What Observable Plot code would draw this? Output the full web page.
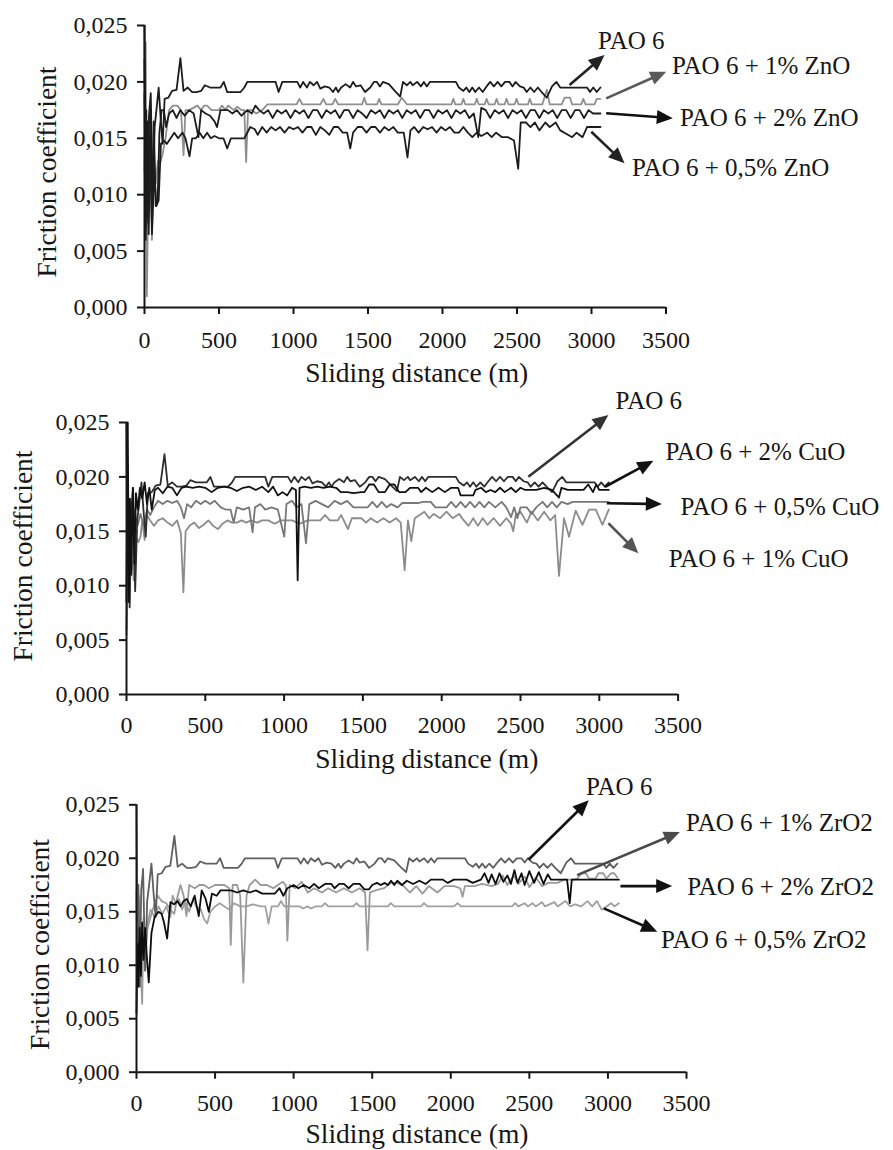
<!DOCTYPE html>
<html><head><meta charset="utf-8">
<script src="https://cdn.jsdelivr.net/npm/d3@7"></script>
<script src="https://cdn.jsdelivr.net/npm/@observablehq/plot@0.6"></script>
<style>
html,body{margin:0;padding:0;background:#fff;}
#chart{position:relative;width:893px;height:1150px;overflow:hidden;background:#fff;}
#chart svg{position:absolute;left:0;background:transparent !important;overflow:visible;}
</style></head><body><div id="chart"></div>
<script>
// ---------- DATA ----------
const distanceTicks = [0, 500, 1000, 1500, 2000, 2500, 3000, 3500];
const frictionTicks = [0, 0.005, 0.010, 0.015, 0.020, 0.025];
const xTitle = "Sliding distance (m)";
const yTitle = "Friction coefficient";

// [sliding distance (m), friction coefficient]
const pao6 = [[0,0.025],[6,0.012],[12,0.0175],[20,0.008],[30,0.017],[42,0.019],[55,0.0095],[68,0.016],[80,0.0175],[95,0.0195],[110,0.0165],[122,0.0145],[135,0.0185],[160,0.0186],[185,0.0192],[215,0.0193],[241,0.0221],[262,0.0192],[290,0.0195],[320,0.0191],[350,0.0191],[380,0.0192],[405,0.0197],[440,0.0195],[480,0.0195],[510,0.0195],[532,0.0200],[555,0.0191],[600,0.0191],[645,0.0191],[670,0.0195],[690,0.0200],[880,0.0200],[900,0.0191],[925,0.0200],[1025,0.0200],[1045,0.0195],[1065,0.0200],[1090,0.0195],[1110,0.0200],[1135,0.0197],[1158,0.0200],[1180,0.0194],[1210,0.0196],[1240,0.0195],[1265,0.0191],[1285,0.0195],[1300,0.0191],[1320,0.0195],[1350,0.0198],[1380,0.0195],[1400,0.0200],[1420,0.0196],[1450,0.0197],[1480,0.0191],[1515,0.0195],[1540,0.0200],[1560,0.0200],[1580,0.0196],[1600,0.0200],[1640,0.0198],[1680,0.0192],[1716,0.0187],[1735,0.0200],[1760,0.0197],[1785,0.0200],[1800,0.0197],[1830,0.0200],[1855,0.0196],[1875,0.0200],[1895,0.0196],[1915,0.0200],[2090,0.0200],[2110,0.0195],[2140,0.0192],[2160,0.0195],[2180,0.0191],[2200,0.0195],[2220,0.0191],[2245,0.0195],[2270,0.0191],[2296,0.0196],[2320,0.0200],[2345,0.0196],[2370,0.0200],[2395,0.0196],[2420,0.0200],[2450,0.0200],[2470,0.0196],[2490,0.0200],[2520,0.0196],[2545,0.0195],[2565,0.0191],[2590,0.0195],[2615,0.0191],[2640,0.0195],[2665,0.0191],[2700,0.0186],[2735,0.0196],[2765,0.0200],[2790,0.0195],[2970,0.0195],[2990,0.0191],[3012,0.0195],[3035,0.0191],[3060,0.0195]];

// ZnO panel
const zno1 = [[0,0.012],[8,0.0235],[16,0.001],[26,0.012],[38,0.018],[50,0.006],[62,0.014],[75,0.011],[90,0.013],[105,0.0128],[120,0.0135],[141,0.015],[165,0.0175],[190,0.0179],[220,0.0179],[245,0.0175],[262,0.0135],[275,0.0175],[300,0.0175],[355,0.0179],[380,0.0175],[400,0.0179],[420,0.0179],[450,0.0175],[500,0.0175],[520,0.0179],[545,0.0175],[560,0.0179],[600,0.0175],[623,0.0178],[650,0.0175],[670,0.0175],[682,0.0129],[695,0.0175],[720,0.0175],[750,0.0172],[790,0.0175],[825,0.018],[1020,0.018],[1040,0.0185],[1060,0.018],[1180,0.018],[1200,0.0185],[1220,0.018],[1260,0.018],[1280,0.0185],[1300,0.018],[1460,0.018],[1475,0.0186],[1490,0.018],[1560,0.018],[1575,0.0185],[1590,0.018],[1700,0.018],[1727,0.0186],[1761,0.018],[2060,0.018],[2073,0.0185],[2086,0.018],[2127,0.018],[2140,0.0185],[2153,0.018],[2217,0.018],[2230,0.0185],[2243,0.018],[2283,0.018],[2296,0.0185],[2310,0.018],[2350,0.018],[2363,0.0185],[2376,0.018],[2417,0.018],[2430,0.0185],[2443,0.018],[2484,0.018],[2497,0.0185],[2510,0.018],[2573,0.018],[2586,0.0185],[2600,0.018],[2670,0.018],[2700,0.0193],[2720,0.018],[2800,0.018],[2820,0.0186],[2856,0.0186],[2870,0.018],[2930,0.018],[2945,0.0185],[2960,0.018],[3020,0.018],[3035,0.0185],[3060,0.0185]];
const zno2 = [[0,0.022],[8,0.007],[18,0.0165],[28,0.0065],[40,0.0175],[50,0.007],[62,0.0165],[75,0.009],[88,0.0095],[100,0.0155],[115,0.0175],[130,0.0175],[145,0.016],[165,0.0172],[190,0.0175],[215,0.0168],[240,0.0175],[270,0.017],[300,0.0175],[330,0.0172],[362,0.0151],[380,0.0175],[410,0.0172],[440,0.017],[470,0.0165],[487,0.016],[510,0.0175],[560,0.0175],[590,0.0172],[620,0.0175],[650,0.017],[690,0.0175],[720,0.0172],[744,0.0179],[770,0.0175],[800,0.0172],[830,0.0175],[860,0.0168],[890,0.0175],[920,0.0172],[950,0.0175],[980,0.0168],[1010,0.0175],[1040,0.0172],[1070,0.0175],[1100,0.0168],[1130,0.0175],[1160,0.0175],[1190,0.0168],[1220,0.0175],[1250,0.0172],[1280,0.0175],[1310,0.0168],[1340,0.0175],[1370,0.0175],[1400,0.0168],[1430,0.0175],[1460,0.0172],[1490,0.0168],[1520,0.0175],[1550,0.0172],[1580,0.0175],[1610,0.0168],[1640,0.0175],[1670,0.0172],[1700,0.0175],[1730,0.0168],[1760,0.0175],[1790,0.0172],[1820,0.0175],[1850,0.0168],[1880,0.0175],[1910,0.0175],[1940,0.0168],[1970,0.0175],[2000,0.0172],[2030,0.0175],[2060,0.0168],[2090,0.0175],[2120,0.0172],[2150,0.0175],[2180,0.0168],[2210,0.0172],[2240,0.0151],[2260,0.0177],[2290,0.0175],[2320,0.0168],[2350,0.0175],[2380,0.0172],[2410,0.0175],[2440,0.0168],[2470,0.0175],[2500,0.0172],[2530,0.0175],[2560,0.0168],[2590,0.0175],[2620,0.0175],[2650,0.0168],[2680,0.0175],[2710,0.0172],[2740,0.0175],[2770,0.0168],[2800,0.0175],[2830,0.0175],[2860,0.0168],[2890,0.0175],[2920,0.0175],[2950,0.0168],[2980,0.0175],[3010,0.0172],[3060,0.0172]];
const zno05 = [[0,0.019],[8,0.006],[15,0.014],[25,0.0075],[38,0.015],[50,0.0065],[65,0.012],[80,0.009],[95,0.0095],[110,0.0145],[130,0.0148],[150,0.0145],[175,0.015],[200,0.0155],[225,0.015],[255,0.0155],[275,0.015],[302,0.0134],[320,0.015],[345,0.015],[370,0.0155],[395,0.015],[420,0.0155],[445,0.015],[470,0.0152],[500,0.015],[530,0.015],[555,0.0141],[580,0.015],[640,0.015],[670,0.015],[710,0.016],[740,0.0158],[760,0.0153],[790,0.016],[820,0.0155],[850,0.016],[880,0.0157],[910,0.016],[940,0.0155],[970,0.016],[1000,0.0158],[1030,0.016],[1060,0.0155],[1090,0.016],[1120,0.016],[1150,0.0153],[1180,0.016],[1210,0.0157],[1240,0.0153],[1270,0.016],[1300,0.016],[1330,0.0155],[1360,0.0155],[1381,0.0141],[1400,0.0155],[1430,0.016],[1460,0.016],[1490,0.0155],[1520,0.016],[1550,0.016],[1580,0.0155],[1610,0.016],[1640,0.0157],[1670,0.016],[1700,0.0155],[1740,0.0155],[1765,0.0133],[1785,0.0157],[1810,0.016],[1840,0.0155],[1870,0.016],[1900,0.0158],[1930,0.016],[1960,0.0155],[1990,0.016],[2020,0.0157],[2050,0.016],[2080,0.0155],[2110,0.0155],[2140,0.016],[2170,0.0155],[2200,0.0151],[2230,0.0155],[2260,0.0152],[2300,0.0155],[2330,0.0151],[2360,0.0155],[2400,0.0151],[2440,0.0151],[2480,0.0148],[2508,0.0123],[2525,0.0164],[2560,0.0164],[2590,0.016],[2620,0.0164],[2650,0.0157],[2690,0.0164],[2720,0.016],[2760,0.0164],[2790,0.0157],[2830,0.0154],[2870,0.0151],[2900,0.0155],[2940,0.0151],[2970,0.016],[3060,0.016]];

// CuO panel
const cuo2 = [[0,0.0085],[8,0.025],[15,0.0085],[22,0.018],[30,0.011],[40,0.019],[50,0.012],[60,0.0185],[72,0.017],[85,0.019],[100,0.018],[115,0.0195],[130,0.0175],[145,0.019],[160,0.017],[180,0.0188],[200,0.019],[230,0.0185],[260,0.0191],[290,0.019],[320,0.0183],[350,0.019],[380,0.0191],[420,0.019],[460,0.0191],[500,0.019],[540,0.0186],[580,0.019],[620,0.0191],[660,0.019],[700,0.0187],[740,0.019],[780,0.0191],[820,0.0188],[860,0.0191],[900,0.0186],[930,0.0191],[960,0.0183],[990,0.0186],[1020,0.0183],[1050,0.019],[1075,0.0188],[1086,0.0105],[1098,0.019],[1130,0.0191],[1170,0.019],[1210,0.0191],[1250,0.019],[1290,0.0191],[1330,0.019],[1360,0.0186],[1400,0.0186],[1440,0.0185],[1490,0.0186],[1510,0.0186],[1540,0.0193],[1570,0.0193],[1600,0.0186],[1640,0.0186],[1670,0.0193],[1700,0.0193],[1730,0.0186],[1770,0.0186],[1800,0.019],[1850,0.019],[1870,0.0186],[1900,0.019],[1940,0.0186],[1980,0.019],[2020,0.0186],[2060,0.019],[2104,0.019],[2120,0.0183],[2200,0.0183],[2215,0.0188],[2250,0.019],[2280,0.0186],[2310,0.0188],[2340,0.0186],[2370,0.019],[2400,0.0186],[2440,0.019],[2470,0.0186],[2500,0.019],[2530,0.0188],[2600,0.0188],[2650,0.019],[2700,0.0188],[2744,0.0181],[2760,0.019],[2800,0.0188],[2900,0.0188],[2930,0.0193],[2960,0.0186],[2980,0.0193],[3000,0.0188],[3060,0.0188]];
const cuo05 = [[0,0.0055],[8,0.014],[15,0.009],[25,0.016],[35,0.0115],[50,0.017],[70,0.0155],[89,0.0166],[110,0.0155],[130,0.017],[150,0.0165],[174,0.0172],[200,0.0178],[230,0.0175],[260,0.0178],[290,0.0176],[322,0.0178],[345,0.0172],[365,0.0162],[385,0.0175],[410,0.0172],[440,0.0178],[471,0.0175],[500,0.0178],[530,0.0175],[560,0.0178],[598,0.0172],[630,0.017],[660,0.017],[680,0.0158],[700,0.0172],[740,0.017],[778,0.0172],[800,0.0149],[815,0.0172],[850,0.0175],[880,0.017],[920,0.0172],[960,0.017],[1001,0.0145],[1015,0.0175],[1050,0.0178],[1080,0.0172],[1110,0.0175],[1139,0.0139],[1160,0.0175],[1200,0.0178],[1240,0.0175],[1280,0.0172],[1320,0.0178],[1360,0.0175],[1400,0.0178],[1440,0.0172],[1490,0.0172],[1530,0.0172],[1560,0.0177],[1590,0.0172],[1620,0.0177],[1650,0.0172],[1680,0.0175],[1720,0.0172],[1750,0.0176],[1800,0.0176],[1850,0.0176],[1880,0.0177],[1930,0.0177],[1960,0.0172],[2030,0.0172],[2060,0.0177],[2090,0.0172],[2120,0.0177],[2150,0.0172],[2180,0.0177],[2210,0.0172],[2240,0.0177],[2270,0.0172],[2300,0.0177],[2340,0.0172],[2380,0.0177],[2410,0.0172],[2440,0.0163],[2460,0.0172],[2480,0.0162],[2500,0.0172],[2540,0.0172],[2570,0.0166],[2600,0.0172],[2640,0.0177],[2670,0.0172],[2700,0.0177],[2730,0.0172],[2760,0.0177],[2800,0.0175],[2830,0.0177],[3060,0.0177]];
const cuo1 = [[0,0.006],[10,0.012],[20,0.0085],[30,0.015],[45,0.0105],[60,0.0145],[75,0.014],[89,0.0145],[100,0.016],[115,0.0142],[130,0.0165],[150,0.016],[174,0.0155],[200,0.016],[230,0.0162],[260,0.0158],[290,0.0155],[322,0.016],[345,0.0148],[361,0.0094],[375,0.015],[400,0.0155],[430,0.0158],[460,0.0153],[490,0.0156],[520,0.016],[550,0.0155],[580,0.0152],[610,0.0157],[640,0.016],[670,0.0158],[700,0.0158],[730,0.016],[760,0.0158],[790,0.016],[830,0.0158],[860,0.016],[900,0.016],[940,0.0157],[980,0.016],[1020,0.016],[1050,0.016],[1100,0.0157],[1150,0.016],[1200,0.016],[1230,0.016],[1260,0.0165],[1290,0.016],[1340,0.016],[1362,0.0165],[1405,0.0152],[1430,0.0162],[1460,0.0162],[1490,0.0162],[1520,0.0158],[1550,0.0162],[1590,0.0158],[1630,0.0162],[1670,0.0158],[1710,0.0162],[1740,0.0158],[1765,0.0114],[1786,0.016],[1807,0.0141],[1829,0.0162],[1860,0.0165],[1890,0.0168],[1920,0.0162],[1950,0.0166],[1990,0.0162],[2030,0.0168],[2070,0.0162],[2110,0.0166],[2140,0.016],[2170,0.0155],[2200,0.0162],[2230,0.0155],[2260,0.0162],[2290,0.0156],[2330,0.0162],[2370,0.0155],[2410,0.0162],[2440,0.0157],[2454,0.015],[2470,0.0165],[2500,0.0168],[2540,0.0158],[2570,0.0168],[2610,0.016],[2650,0.0168],[2690,0.016],[2720,0.0165],[2744,0.0109],[2776,0.0162],[2808,0.0145],[2850,0.0169],[2893,0.0156],[2935,0.017],[2978,0.017],[3020,0.0156],[3060,0.017]];

// ZrO2 panel
const zro1 = [[0,0.017],[8,0.0095],[15,0.0165],[25,0.011],[36,0.0064],[45,0.0145],[55,0.011],[70,0.0135],[90,0.0145],[110,0.0155],[135,0.0165],[160,0.016],[190,0.0158],[215,0.0152],[240,0.0148],[262,0.0165],[280,0.0175],[300,0.0165],[318,0.0146],[335,0.0175],[370,0.0172],[400,0.0175],[430,0.0175],[460,0.0172],[500,0.0175],[560,0.0175],[590,0.0172],[600,0.0119],[612,0.0175],[640,0.0175],[660,0.0165],[680,0.0084],[700,0.0165],[720,0.0175],[755,0.018],[790,0.0175],[830,0.0175],[870,0.0172],[900,0.0175],[930,0.0178],[950,0.0175],[960,0.0123],[975,0.0175],[1010,0.0172],[1050,0.0178],[1090,0.0168],[1130,0.0172],[1180,0.0168],[1220,0.0172],[1270,0.0168],[1320,0.0172],[1370,0.0168],[1420,0.0172],[1455,0.0168],[1470,0.0114],[1485,0.0168],[1520,0.017],[1575,0.0172],[1618,0.0177],[1660,0.0177],[1700,0.0174],[1740,0.0168],[1780,0.0174],[1820,0.0167],[1860,0.0174],[1915,0.0168],[1960,0.0174],[2020,0.0174],[2060,0.0172],[2075,0.0164],[2090,0.0174],[2150,0.0174],[2200,0.0176],[2260,0.0174],[2300,0.0176],[2330,0.0184],[2360,0.0175],[2400,0.0184],[2430,0.0176],[2470,0.0183],[2500,0.0173],[2540,0.0182],[2580,0.0174],[2620,0.0177],[2680,0.0177],[2720,0.018],[2780,0.018],[2807,0.0181],[2830,0.0186],[2860,0.0186],[2880,0.0181],[2920,0.0181],[2940,0.0186],[2970,0.0186],[2990,0.0181],[3020,0.0186],[3040,0.0186],[3060,0.0182]];
const zro2 = [[0,0.0055],[6,0.012],[12,0.008],[20,0.0135],[28,0.009],[36,0.014],[45,0.0105],[55,0.0135],[65,0.011],[78,0.0084],[95,0.013],[115,0.0145],[140,0.015],[160,0.0148],[175,0.014],[195,0.0125],[216,0.0159],[240,0.0157],[260,0.016],[280,0.0155],[300,0.016],[320,0.0162],[345,0.0155],[370,0.0165],[396,0.0146],[415,0.017],[440,0.0162],[460,0.015],[480,0.0167],[510,0.0165],[535,0.017],[600,0.017],[640,0.0168],[680,0.017],[720,0.0168],[760,0.017],[800,0.0167],[840,0.0167],[880,0.0167],[910,0.0172],[935,0.0165],[960,0.0172],[1000,0.0175],[1030,0.0172],[1064,0.0175],[1100,0.0172],[1130,0.0176],[1160,0.0172],[1200,0.0176],[1240,0.0176],[1260,0.0172],[1290,0.0176],[1320,0.0176],[1350,0.0172],[1380,0.0176],[1420,0.0176],[1450,0.0171],[1480,0.0171],[1500,0.0175],[1530,0.0177],[1554,0.0175],[1580,0.0177],[1600,0.0175],[1620,0.0179],[1640,0.0175],[1660,0.0179],[1690,0.0175],[1720,0.0179],[1760,0.0176],[1800,0.0179],[1840,0.0176],[1873,0.018],[1950,0.018],[1980,0.0177],[2020,0.018],[2100,0.018],[2140,0.0177],[2192,0.018],[2215,0.0186],[2240,0.0177],[2260,0.0185],[2285,0.0176],[2310,0.0186],[2335,0.0178],[2360,0.0184],[2383,0.0176],[2405,0.0189],[2425,0.0177],[2450,0.0186],[2470,0.0175],[2500,0.0188],[2530,0.0177],[2560,0.0187],[2590,0.0176],[2617,0.0185],[2638,0.018],[2740,0.018],[2757,0.0158],[2770,0.018],[3070,0.018]];
const zro05 = [[0,0.016],[8,0.009],[18,0.0145],[28,0.008],[40,0.013],[55,0.0095],[70,0.014],[90,0.0152],[115,0.0145],[140,0.0155],[165,0.0148],[190,0.0155],[215,0.0145],[230,0.0165],[250,0.0158],[270,0.0162],[290,0.0152],[310,0.016],[335,0.015],[360,0.0162],[380,0.0155],[410,0.0152],[430,0.0143],[450,0.0139],[470,0.015],[500,0.0155],[530,0.0158],[560,0.0155],[590,0.0152],[620,0.0158],[660,0.0155],[700,0.0155],[740,0.0157],[790,0.0155],[820,0.0155],[840,0.0139],[860,0.0155],[900,0.0155],[920,0.016],[940,0.0155],[1040,0.0155],[1060,0.0153],[1090,0.0155],[1110,0.0153],[1140,0.0155],[1180,0.0155],[1200,0.0158],[1220,0.0155],[1380,0.0155],[1400,0.0158],[1420,0.0155],[1600,0.0155],[1618,0.0158],[1640,0.0155],[1810,0.0155],[1830,0.0158],[1850,0.0155],[2020,0.0155],[2043,0.0158],[2065,0.0155],[2390,0.0155],[2410,0.0158],[2430,0.0155],[2470,0.0158],[2490,0.0155],[2520,0.0158],[2540,0.0155],[2580,0.0159],[2600,0.0155],[2660,0.0159],[2680,0.0155],[2730,0.016],[2760,0.0155],[2790,0.0157],[2830,0.0155],[2870,0.016],[2900,0.0155],[2930,0.016],[2960,0.0152],[2990,0.0155],[3020,0.0158],[3040,0.0155],[3070,0.0158]];

// annotation labels (one per series, drawn to the right of each panel)
const znoLabels = ["PAO 6", "PAO 6 + 1% ZnO", "PAO 6 + 2% ZnO", "PAO 6 + 0,5% ZnO"];
const cuoLabels = ["PAO 6", "PAO 6 + 2% CuO", "PAO 6 + 0,5% CuO", "PAO 6 + 1% CuO"];
const zroLabels = ["PAO 6", "PAO 6 + 1% ZrO2", "PAO 6 + 2% ZrO2", "PAO 6 + 0,5% ZrO2"];

// ---------- LAYOUT / STYLE ----------
const ink = "#161616";
const serif = "Liberation Serif";
const commaFmt = d => d3.format(".3f")(d).replace(".", ",");
const plainFmt = d => String(d);

// annotation anchor points in data coordinates: [x, y]
const znoLabelPos = [[3044,0.02367],[3540,0.02137],[3594,0.01684],[3272,0.01241]];
const znoArrowFrom = [[2856,0.01968],[3102,0.0185],[3102,0.01717],[3002,0.01554]];
const znoArrowTo = [[3091,0.02234],[3505,0.02086],[3549,0.01673],[3225,0.01274]];
const cuoLabelPos = [[3103,0.02696],[3420,0.02227],[3516,0.01722],[3440,0.01247]];
const cuoArrowFrom = [[2553,0.01997],[3040,0.01905],[3051,0.01753],[3061,0.01569]];
const cuoArrowTo = [[3061,0.02564],[3346,0.02144],[3400,0.01746],[3251,0.01293]];
const zroLabelPos = [[2860,0.02668],[3497,0.02326],[3504,0.01735],[3338,0.01238]];
const zroArrowFrom = [[2499,0.01984],[2807,0.01838],[3083,0.01735],[2977,0.01527]];
const zroArrowTo = [[2881,0.02537],[3461,0.02242],[3412,0.01735],[3317,0.01309]];

function arrowMark(from, to, colors) {
  return (index, scales) => {
    const g = d3.create("svg:g");
    from.forEach((f, i) => {
      const x1 = scales.x(f[0]), y1 = scales.y(f[1]);
      const x2 = scales.x(to[i][0]), y2 = scales.y(to[i][1]);
      const dx = x2 - x1, dy = y2 - y1, L = Math.hypot(dx, dy);
      const ux = dx / L, uy = dy / L, hl = 16, hw = 7;
      const bx = x2 - ux * hl, by = y2 - uy * hl;
      g.append("line").attr("x1", x1).attr("y1", y1).attr("x2", bx + ux * 3).attr("y2", by + uy * 3)
        .attr("stroke", colors[i]).attr("stroke-width", 2.6);
      g.append("path").attr("d", `M${x2},${y2}L${bx - uy * hw},${by + ux * hw}L${bx + uy * hw},${by - ux * hw}Z`)
        .attr("fill", colors[i]);
    });
    return g.node();
  };
}

// axis titles placed relative to the frame
function titleMark(text, where, offX, offY) {
  return (index, scales, values, dims) => {
    const left = dims.marginLeft, right = dims.width - dims.marginRight;
    const top = dims.marginTop, bottom = dims.height - dims.marginBottom;
    const t = d3.create("svg:text")
      .attr("text-anchor", "middle").attr("dy", "0.32em")
      .attr("font-size", 27.5).attr("font-family", serif).attr("fill", ink).text(text);
    if (where === "x") {
      t.attr("transform", `translate(${(left + right) / 2 + offX},${bottom + offY})`);
    } else {
      t.attr("transform", `translate(${left + offX},${(top + bottom) / 2 + offY}) rotate(-90)`);
    }
    return t.node();
  };
}

function panel(cfg) {
  const marks = [];
  cfg.series.forEach((s, i) => {
    marks.push(Plot.line(s, {x: d => d[0], y: d => d[1], stroke: cfg.colors[i], strokeWidth: 1.8, strokeLinejoin: "round"}));
  });
  marks.push(Plot.ruleY([0], {stroke: ink, strokeWidth: 2}));
  marks.push(Plot.ruleX([0], {stroke: ink, strokeWidth: 2}));
  marks.push(Plot.axisX(distanceTicks, {tickSize: 7, tickPadding: cfg.padX, tickFormat: plainFmt, fontSize: 24, fontFamily: serif, stroke: ink, fill: ink, strokeWidth: 2, label: null}));
  marks.push(Plot.axisY(frictionTicks, {tickSize: 7, tickPadding: 10, tickFormat: commaFmt, fontSize: 24, fontFamily: serif, stroke: ink, fill: ink, strokeWidth: 2, label: null}));
  marks.push(titleMark(xTitle, "x", cfg.xtDx, cfg.xtDy));
  marks.push(titleMark(yTitle, "y", cfg.ytDx, cfg.ytDy));
  marks.push(arrowMark(cfg.from, cfg.to, cfg.arrowColors));
  marks.push(Plot.text(cfg.labels, {x: (d, i) => cfg.labelPos[i][0], y: (d, i) => cfg.labelPos[i][1], text: d => d, textAnchor: "start", fontSize: 25, fontFamily: serif, fill: ink}));
  const svg = Plot.plot({
    width: 893, height: cfg.height,
    marginTop: cfg.mt, marginBottom: cfg.mb, marginLeft: cfg.ml, marginRight: cfg.mr,
    x: {domain: [0, 3500]},
    y: {domain: [0, 0.025]},
    style: {background: "transparent", overflow: "visible"},
    marks
  });
  svg.style.top = cfg.top + "px";
  svg.style.position = "absolute";
  document.getElementById("chart").appendChild(svg);
}

panel({top: 0, height: 395, mt: 25, mb: 88, ml: 144, mr: 227.5, padX: 16,
  series: [zno1, pao6, zno2, zno05], colors: ["#8f8f8f", "#1c1c1c", "#1c1c1c", "#1c1c1c"],
  labels: znoLabels, labelPos: znoLabelPos, from: znoArrowFrom, to: znoArrowTo,
  arrowColors: ["#222", "#5a5a5a", "#111", "#222"],
  xtDx: 12, xtDy: 66, ytDx: -97, ytDy: 6});

panel({top: 385, height: 395, mt: 37, mb: 86, ml: 126, mr: 215.4, padX: 14,
  series: [cuo1, cuo05, pao6, cuo2], colors: ["#8c8c8c", "#777777", "#2e2e2e", "#111111"],
  labels: cuoLabels, labelPos: cuoLabelPos, from: cuoArrowFrom, to: cuoArrowTo,
  arrowColors: ["#333", "#111", "#111", "#555"],
  xtDx: 25, xtDy: 65, ytDx: -103, ytDy: -2});

panel({top: 780, height: 370, mt: 24.3, mb: 78.3, ml: 136, mr: 207, padX: 14.6,
  series: [zro05, zro1, pao6, zro2], colors: ["#a0a0a0", "#9a9a9a", "#5f5f5f", "#0d0d0d"],
  labels: zroLabels, labelPos: zroLabelPos, from: zroArrowFrom, to: zroArrowTo,
  arrowColors: ["#111", "#4a4a4a", "#111", "#111"],
  xtDx: 6, xtDy: 62, ytDx: -96, ytDy: 6.5});
</script></body></html>
